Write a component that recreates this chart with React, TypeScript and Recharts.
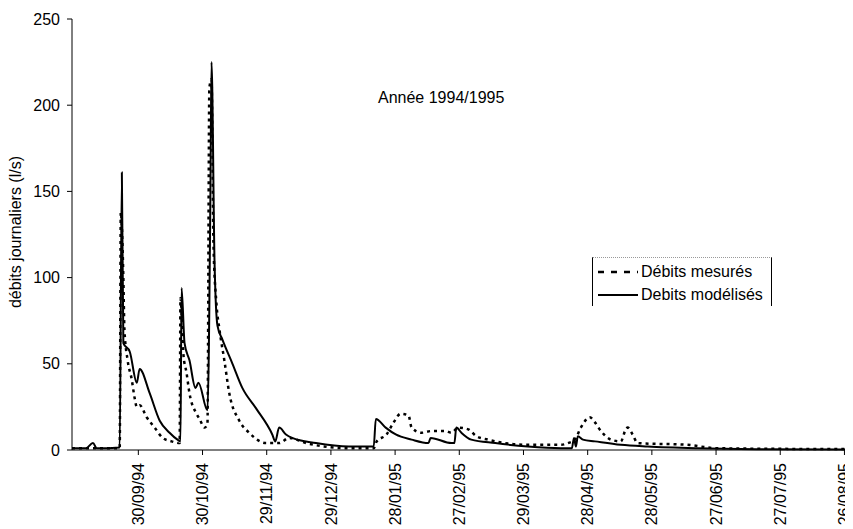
import { LineChart, Line, XAxis, YAxis } from "recharts";

// day 0 = 30/08/94
const tickDays = [31, 61, 91, 121, 151, 181, 211, 241, 271, 301, 331, 361];
const tickLabels = ["30/09/94", "30/10/94", "29/11/94", "29/12/94", "28/01/95", "27/02/95", "29/03/95", "28/04/95", "28/05/95", "27/06/95", "27/07/95", "26/08/95"];
const yTicks = [0, 50, 100, 150, 200, 250];

const measuredDays = [0, 22.3, 22.8, 24, 24.5, 26, 27.9, 29.3, 30.3, 31.6, 34.9, 38.6, 42.4, 46.5, 50.3, 50.7, 52.1, 53.5, 54.9, 58.2, 59.6, 62, 63.3, 64.2, 65.2, 66.1, 67.5, 68.9, 71.2, 73.5, 78.2, 82.8, 90.8, 96.8, 101.5, 109.4, 129.4, 141, 142.4, 147, 150.3, 153.6, 157.3, 158.7, 163.3, 168, 174.5, 177.3, 180.6, 185.2, 189, 194.5, 213, 228.5, 231.8, 235, 237.8, 242, 244.4, 247.2, 251.9, 256.5, 258.8, 259.7, 262, 264.4, 287.6, 301.6, 365];
const measuredFlow = [1, 1, 138, 100, 70, 52, 41, 30, 25, 26, 19, 13, 7, 5, 4, 88, 55, 45, 33, 21, 18, 13, 15, 210, 215, 120, 85, 70, 52, 33, 17, 10, 4, 4, 7, 4, 1, 1, 5, 9, 16, 21, 20, 13, 10, 11, 11, 10, 13, 12, 8, 6, 3, 3, 4, 6, 13, 19, 16, 11, 6, 5, 12, 13, 9, 4, 3, 1, 0.5];

const modelledDays = [0, 6.5, 9.8, 11.6, 22.3, 23.3, 24, 27, 30.3, 31.6, 36.3, 41, 45.6, 49.3, 50.7, 51.2, 52.6, 54.9, 57.7, 59.1, 63.3, 64.7, 65.2, 66.6, 68, 70.3, 75, 79.6, 86.1, 93.6, 95, 96.8, 100, 102.9, 114, 129.4, 141, 142, 146.6, 151.3, 158.7, 166.6, 167.6, 177.3, 178.7, 179.6, 182, 186.6, 197.8, 213, 228.5, 233.6, 234.6, 235.5, 236.4, 238.8, 244.4, 256.5, 269, 292.3, 320, 365];
const modelledFlow = [1, 1, 4, 1, 1.5, 161, 62, 57, 39, 47, 33, 17, 10, 6, 5, 94, 62, 52, 36, 39, 23, 150, 225, 110, 72, 64, 50, 36, 24, 9, 5, 13, 9, 7, 4, 2, 2, 18, 13, 9, 6, 4, 7, 4, 4, 13, 10, 6, 4, 2, 1, 1, 7, 2, 8, 6, 5, 3, 2, 1, 0.5, 0.3];

const measuredData = measuredDays.map((day, i) => ({ day, flow: measuredFlow[i] }));
const modelledData = modelledDays.map((day, i) => ({ day, flow: modelledFlow[i] }));

const font = "'Liberation Sans', Arial, sans-serif";

function DateTick({ x, y, payload }: any) {
  const i = tickDays.indexOf(payload.value);
  return (
    <g transform={`translate(${x},${y})`}>
      <text transform="rotate(-90)" x={-6} dy="0.35em" textAnchor="end" fontSize={16} fontFamily={font} fill="#000">
        {tickLabels[i]}
      </text>
    </g>
  );
}

export default function App() {
  return (
    <div style={{ position: "relative", width: 845, height: 521, fontFamily: font, color: "#000" }}>
      <LineChart width={845} height={521} margin={{ top: 11, right: 0, left: 0, bottom: 0 }}>
        <XAxis
          type="number"
          dataKey="day"
          domain={[0, 365]}
          ticks={tickDays}
          tick={<DateTick />}
          interval={0}
          height={79}
          tickSize={5}
          stroke="#000"
          allowDataOverflow
        />
        <YAxis
          type="number"
          domain={[0, 250]}
          ticks={yTicks}
          width={64}
          tickSize={5}
          tickMargin={7}
          stroke="#000"
          tick={{ fontSize: 16, fontFamily: font, fill: "#000" }}
        />
        <Line data={measuredData} dataKey="flow" type="monotone" dot={false} stroke="#000" strokeWidth={2.5} strokeDasharray="3 4" isAnimationActive={false} />
        <Line data={modelledData} dataKey="flow" type="monotone" dot={false} stroke="#000" strokeWidth={2} isAnimationActive={false} />
      </LineChart>

      <div style={{ position: "absolute", left: 370, top: 81, fontSize: 16, whiteSpace: "nowrap" }}>Année 1994/1995</div>

      <div
        style={{
          position: "absolute",
          left: 8,
          top: 224,
          fontSize: 16,
          whiteSpace: "nowrap",
          transform: "translate(-50%, -50%) rotate(-90deg)",
        }}
      >
        débits journaliers (l/s)
      </div>

      <div
        style={{
          position: "absolute",
          left: 584,
          top: 249,
          width: 178,
          height: 48,
          borderTop: "1px dotted #999",
          borderRight: "1px solid #000",
          borderLeft: "1px solid #000",
          fontSize: 16,
        }}
      >
        <div style={{ position: "absolute", left: 3, top: 5, display: "flex", alignItems: "center", whiteSpace: "nowrap" }}>
          <svg width={42} height={6}>
            <line x1={2} y1={3} x2={42} y2={3} stroke="#000" strokeWidth={2.5} strokeDasharray="6 7" />
          </svg>
          <span style={{ marginLeft: 3 }}>Débits mesurés</span>
        </div>
        <div style={{ position: "absolute", left: 3, top: 28, display: "flex", alignItems: "center", whiteSpace: "nowrap" }}>
          <svg width={42} height={6}>
            <line x1={2} y1={3} x2={42} y2={3} stroke="#000" strokeWidth={2} />
          </svg>
          <span style={{ marginLeft: 3 }}>Debits modélisés</span>
        </div>
      </div>
    </div>
  );
}
